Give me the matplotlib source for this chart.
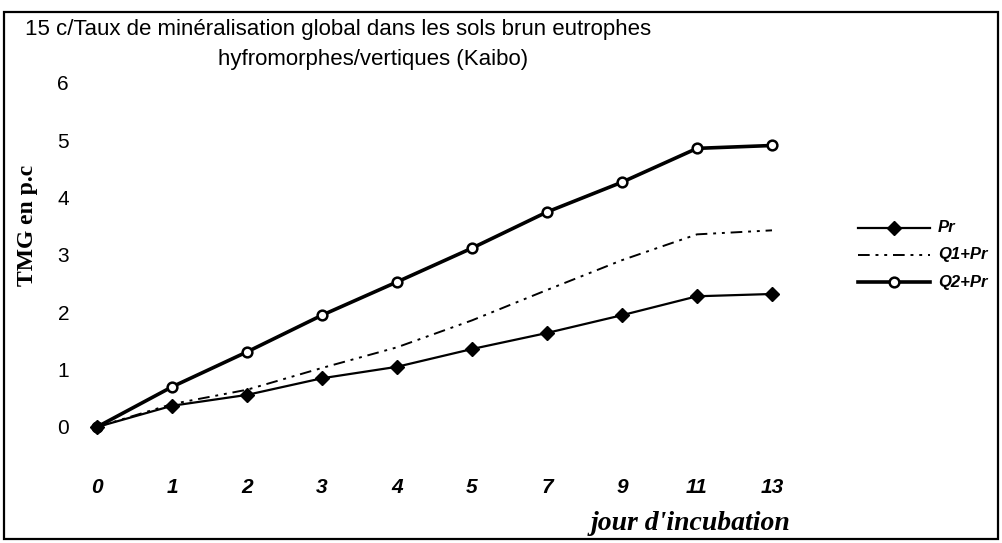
import matplotlib
matplotlib.use('Agg')
import matplotlib.pyplot as plt
from matplotlib.patches import Rectangle

# incubation days (evenly spaced categories on the x axis)
days = ['0', '1', '2', '3', '4', '5', '7', '9', '11', '13']
# global mineralisation rate, in percent
pr = [0.0, 0.37, 0.56, 0.85, 1.05, 1.36, 1.64, 1.95, 2.28, 2.32]
q1_pr = [0.0, 0.40, 0.65, 1.03, 1.39, 1.86, 2.39, 2.91, 3.36, 3.43]
q2_pr = [0.0, 0.70, 1.31, 1.95, 2.53, 3.12, 3.75, 4.27, 4.86, 4.91]

W, H = 1003, 543
fig = plt.figure(figsize=(W / 100, H / 100), dpi=100)

def px(x0, y0, x1, y1):
  # pixel box (top-left origin) -> figure fraction rect
  return [x0 / W, 1 - y1 / H, (x1 - x0) / W, (y1 - y0) / H]

x_first, x_step = 97, 75.0
ax = fig.add_axes(px(76, 83, 809.5, 427))
xs = list(range(len(days)))

ax.plot(xs, q2_pr, color='black', lw=2.6, marker='o', ms=7,
        mfc='white', mec='black', mew=1.8, clip_on=False, zorder=3)
ax.plot(xs, q1_pr, color='black', lw=1.4, dashes=(6, 3, 1.5, 3, 1.5, 3),
        clip_on=False, zorder=2)
ax.plot(xs, pr, color='black', lw=1.6, marker='D', ms=7.5,
        mfc='black', mec='black', clip_on=False, zorder=4)

ax.set_xlim(-(x_first - 76) / x_step, 9.5)
ax.set_ylim(0, 6)
for s in ax.spines.values():
  s.set_visible(False)
ax.set_yticks(range(7))
ax.set_yticklabels([str(v) for v in range(7)], fontsize=15,
                   family='Liberation Sans')
ax.set_xticks(xs)
ax.set_xticklabels(days, fontsize=15, family='Liberation Sans',
                   fontweight='bold', style='italic')
ax.tick_params(axis='y', length=0, pad=5)
ax.tick_params(axis='x', length=0, pad=37)

fig.text(790 / W, 1 - 524 / H, "jour d'incubation", ha='right', va='center',
         fontsize=20, family='Liberation Serif', fontweight='bold', style='italic')
fig.text(28 / W, 1 - 225 / H, 'TMG en p.c', ha='center', va='center',
         rotation=90, fontsize=17, family='Liberation Serif', fontweight='bold')

fig.text(25 / W, 1 - 30 / H,
         '15 c/Taux de minéralisation global dans les sols brun eutrophes',
         ha='left', va='center', fontsize=16, family='Liberation Sans')
fig.text(373 / W, 1 - 60 / H, 'hyfromorphes/vertiques (Kaibo)',
         ha='center', va='center', fontsize=16, family='Liberation Sans')

# legend drawn by hand on the right
leg = [('Pr', 228), ('Q1+Pr', 255), ('Q2+Pr', 282)]
x0, x1 = 858, 930
lax = fig.add_axes([0, 0, 1, 1])
lax.set_xlim(0, W)
lax.set_ylim(H, 0)
lax.axis('off')
lax.plot([x0, x1], [228, 228], color='black', lw=1.6)
lax.plot([(x0 + x1) / 2], [228], marker='D', ms=7.5, color='black')
lax.plot([x0, x1], [255, 255], color='black', lw=1.4, dashes=(6, 3, 1.5, 3, 1.5, 3))
lax.plot([x0, x1], [282, 282], color='black', lw=2.6)
lax.plot([(x0 + x1) / 2], [282], marker='o', ms=7, mfc='white', mec='black', mew=1.8)
for name, y in leg:
  lax.text(938, y, name, ha='left', va='center', fontsize=12,
           family='Liberation Sans', fontweight='bold', style='italic')

# outer frame
lax.add_patch(Rectangle((4, 12), 994, 527, fill=False, lw=1.6, ec='black'))

fig.savefig('out.png', dpi=100)
